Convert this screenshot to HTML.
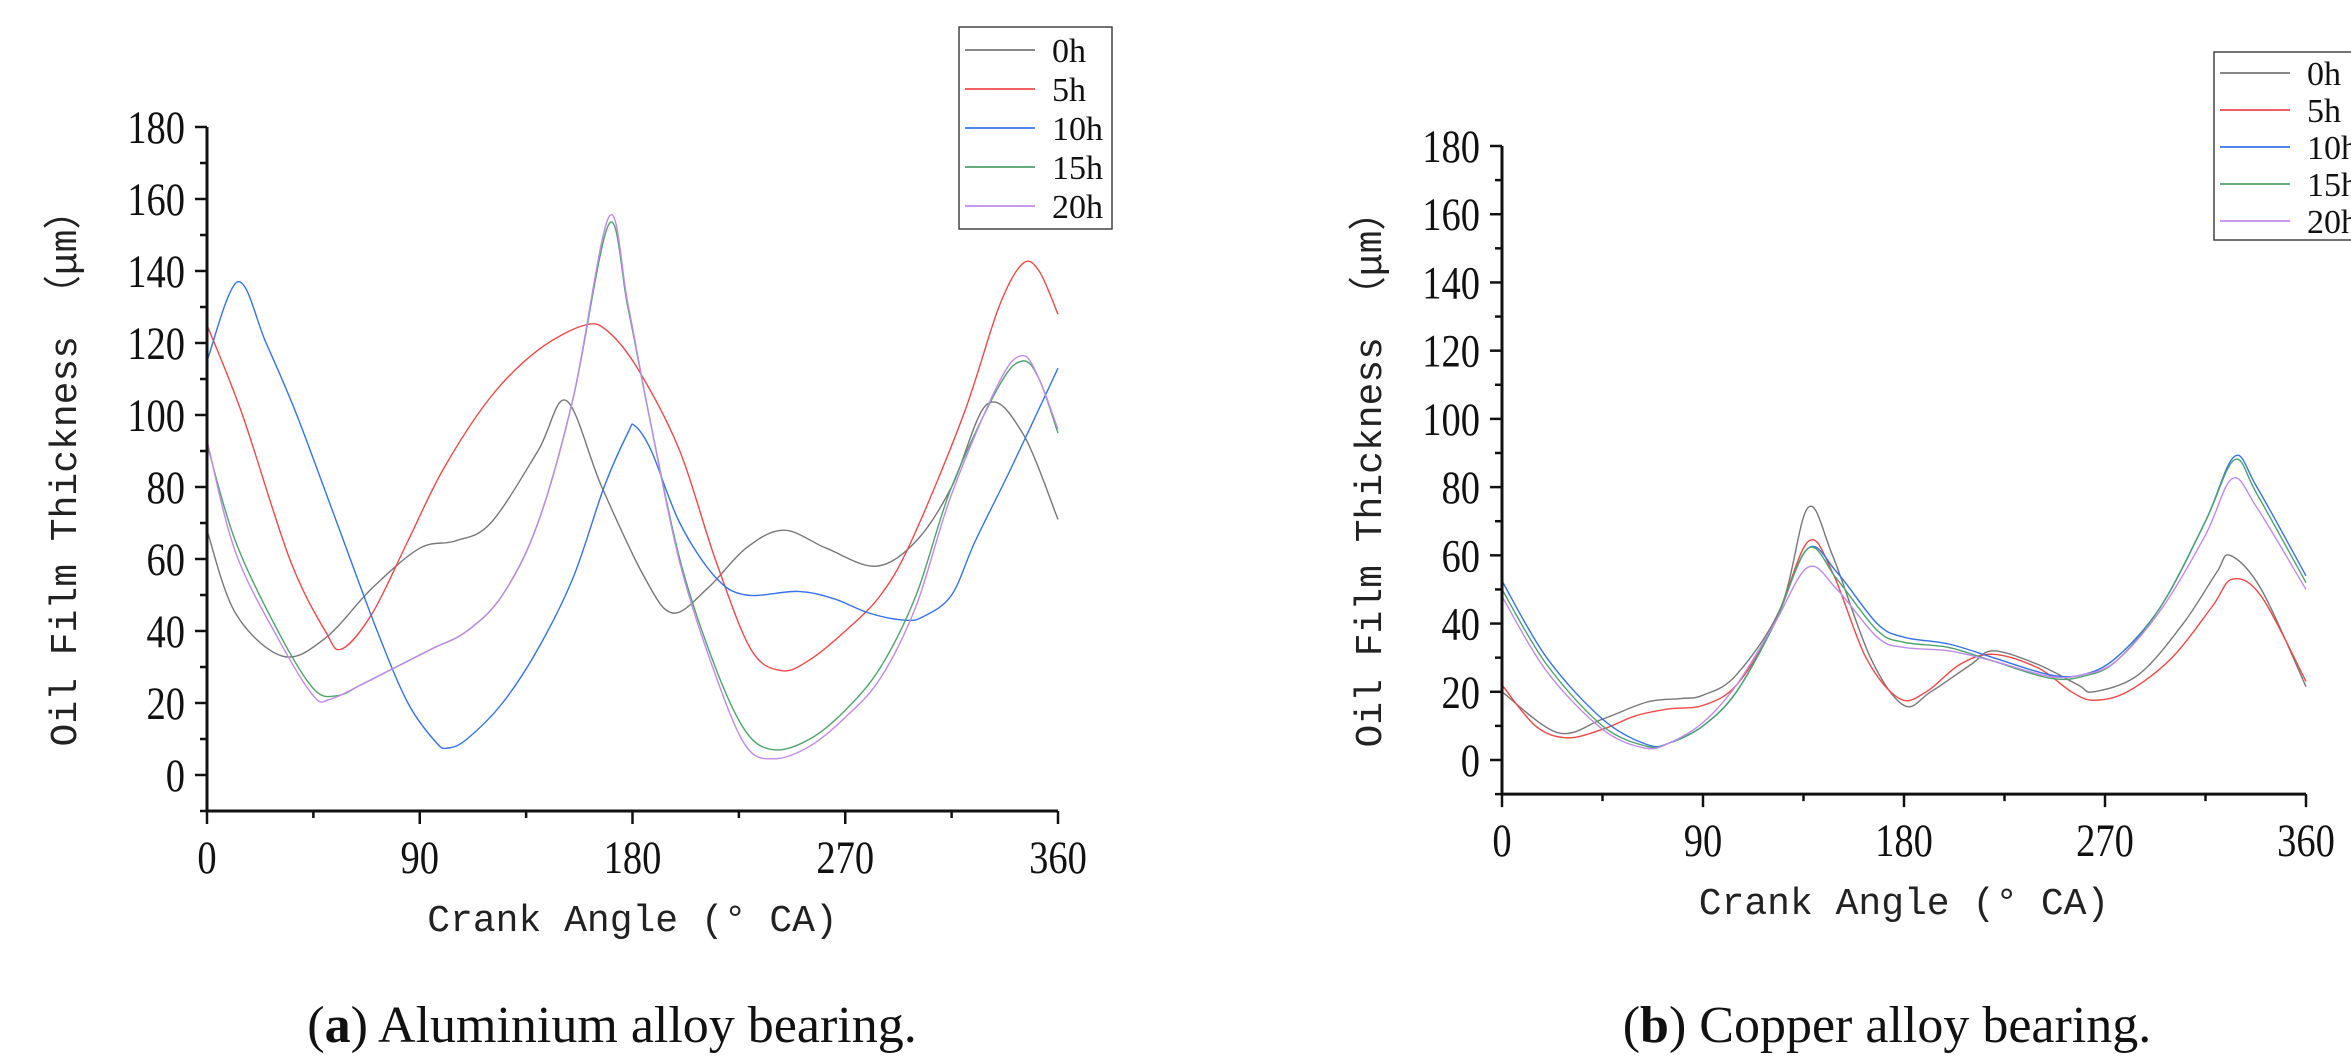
<!DOCTYPE html>
<html><head><meta charset="utf-8"><style>
html,body{margin:0;padding:0;background:#fff;}
svg{display:block;}
.tick{font-family:"Liberation Serif",serif;font-size:47px;fill:#111;}
.ttl{font-family:"Liberation Mono","Noto Sans CJK SC",monospace;font-size:38px;fill:#222;}
.leg{font-family:"Liberation Serif",serif;font-size:34px;fill:#111;}
.cap{font-family:"Liberation Serif",serif;font-size:52px;fill:#111;}
</style></head><body>
<svg id="fig" width="2351" height="1063" viewBox="0 0 2351 1063" xmlns="http://www.w3.org/2000/svg">
<text class="cap" x="612" y="1042" text-anchor="middle">(<tspan font-weight="bold">a</tspan>) Aluminium alloy bearing.</text>
<text class="cap" x="1887" y="1042" text-anchor="middle">(<tspan font-weight="bold">b</tspan>) Copper alloy bearing.</text>
</svg>
<script>
// Panel A (aluminium) data
const seriesNames = ["0h","5h","10h","15h","20h"];
const colors = ["#777777","#f04848","#3572e8","#4ea36c","#c08ae8"];
const yTicks = [0,20,40,60,80,100,120,140,160,180];
const xTicks = [0,90,180,270,360];

const a0x = [0,12,32,50,70,90,105,120,140,152,167,185,197,212,228,244,262,283,300,315,330,345,360];
const a0y = [68,45,33,38,52,63,65,70,90,104,80,55,45,52,63,68,63,58,65,80,103,95,71];
const a5x = [0,15,35,50,57,70,85,100,120,140,160,170,183,200,215,230,243,255,270,285,298,320,335,345,352,360];
const a5y = [125,100,60,40,35,45,65,85,105,118,125,123,112,90,60,35,29,32,40,50,65,100,130,142,140,128];
const a10x = [0,13,25,38,55,72,85,97,102,110,125,140,155,168,178,181,188,200,215,228,250,265,280,295,303,315,325,340,360];
const a10y = [115,137,120,100,70,40,20,9,7.5,10,20,35,55,80,95,97,90,70,55,50,51,49,45,43,44,50,65,85,113];
const a15x = [0,12,30,45,55,65,80,95,110,125,140,155,170,178,187,200,215,228,240,255,270,285,300,315,335,345,352,360];
const a15y = [92,65,40,24,22,25,30,35,40,50,70,105,153,130,100,60,30,12,7,10,18,30,50,80,108,115,110,95];
const a20x = [0,12,30,45,52,65,80,95,110,125,140,155,170,178,187,200,215,228,240,255,270,285,300,315,335,345,352,360];
const a20y = [93,62,38,22,21,25,30,35,40,50,70,105,155,131,100,59,28,8,4.5,8,16,27,47,78,109,116.5,110,96];

// Panel B (copper) data
const b0x = [0,25,45,65,80,90,105,125,137,148,165,180,192,210,220,240,258,265,285,305,320,326,340,360];
const b0y = [20,8,12,17,18,19,25,45,74,60,30,16,20,28,32,28,22,20,25,40,55,60,50,21.5];
const b5x = [0,15,29,45,60,75,90,105,122,137,148,163,178,190,205,220,240,255,265,280,300,318,327,340,360];
const b5y = [22,10,6.5,9,13,15,16,22,40,64,55,30,18,20,28,31,27,20,17.5,20,30,45,53,48,23];
const b10x = [0,20,45,65,75,90,105,122,137,150,168,180,200,220,245,260,275,295,315,328,338,360];
const b10y = [52.5,30,12,4.5,5,10,20,40,62,55,40,36,34,30,25,25,30,45,70,89,80,54];
const b15x = [0,20,45,65,75,90,105,122,137,150,168,180,200,220,245,260,275,295,315,328,338,360];
const b15y = [50,28,10,4,5,10,20,40,62,53,38,34.5,33,29,24,24.5,29,45,70,88,78,52];
const b20x = [0,20,45,64,75,90,105,122,137,150,168,180,200,220,245,260,275,295,315,327,338,360];
const b20y = [48,26,9,3.5,5,11,22,40,56.5,50,36,33,32,29,24.5,25,29,44,66,82.5,74,50];

const NS = "http://www.w3.org/2000/svg";
const svg = document.getElementById("fig");
function mk(tag, attrs, parent){
  const e = document.createElementNS(NS, tag);
  for (const k in attrs) e.setAttribute(k, attrs[k]);
  (parent||svg).appendChild(e);
  return e;
}
function smooth(pts){
  let d = "M"+pts[0][0].toFixed(1)+","+pts[0][1].toFixed(1);
  for (let i=0;i<pts.length-1;i++){
    const p0=pts[Math.max(i-1,0)], p1=pts[i], p2=pts[i+1], p3=pts[Math.min(i+2,pts.length-1)];
    const c1x=p1[0]+(p2[0]-p0[0])/6, c1y=p1[1]+(p2[1]-p0[1])/6;
    const c2x=p2[0]-(p3[0]-p1[0])/6, c2y=p2[1]-(p3[1]-p1[1])/6;
    d+=" C"+c1x.toFixed(1)+","+c1y.toFixed(1)+" "+c2x.toFixed(1)+","+c2y.toFixed(1)+" "+p2[0].toFixed(1)+","+p2[1].toFixed(1);
  }
  return d;
}
function squeezedText(parent, x, y, anchor, str, name){
  const g = mk("g",{transform:"translate("+x+","+y+") scale(0.82,1)"},parent);
  const t = mk("text",{x:0,y:0,"text-anchor":anchor,class:"tick"},g);
  t.textContent = str;
  
  
}
function panel(cfg){
  const g = mk("g", {});
  
  
  const X = v => cfg.x0 + (v/360)*(cfg.x1-cfg.x0);
  const Y = v => cfg.y0 - (v/180)*(cfg.y0-cfg.y180);
  const yBot = Y(-10);
  cfg.series.forEach((s,i)=>{
    const pts = s[0].map((a,j)=>[X(a),Y(s[1][j])]);
    const p = mk("path",{d:smooth(pts),fill:"none",stroke:colors[i],"stroke-width":1.4},g);
    
    
  });
  const ax = mk("path",{d:"M"+cfg.x0+","+Y(180)+" L"+cfg.x0+","+yBot+" L"+cfg.x1+","+yBot,fill:"none",stroke:"#111","stroke-width":3},g);
  
  
  for (let v=-10; v<=180; v+=10){
    const major = v%20===0;
    const t = mk("line",{x1:cfg.x0-(major?12:7),x2:cfg.x0,y1:Y(v),y2:Y(v),stroke:"#111","stroke-width":2.5},g);
    
    
  }
  yTicks.forEach(v=>{
    squeezedText(g, cfg.x0-22, Y(v)+16, "end", String(v), 'y-tick-label');
  });
  for (let v=0; v<=360; v+=45){
    const major = v%90===0;
    const t = mk("line",{x1:X(v),x2:X(v),y1:yBot,y2:yBot+(major?13:7),stroke:"#111","stroke-width":2.5},g);
    
    
  }
  xTicks.forEach(v=>{
    squeezedText(g, X(v), yBot+62, "middle", String(v), 'x-tick-label');
  });
  const xt = mk("text",{x:(cfg.x0+cfg.x1)/2,y:yBot+120,"text-anchor":"middle",class:"ttl"},g);
  xt.textContent = "Crank Angle (° CA)";
  
  
  const ytx = cfg.ytx, yty = (Y(180)+yBot)/2;
  const yt = mk("text",{x:ytx,y:yty,"text-anchor":"middle",class:"ttl",transform:"rotate(-90 "+ytx+" "+yty+")"},g);
  yt.textContent = "Oil Film Thickness （μm）";
  
  
  const L = cfg.leg;
  const box = mk("rect",{x:L.x,y:L.y,width:L.w,height:L.h,fill:"#fff",stroke:"#444","stroke-width":1.5},g);
  
  
  seriesNames.forEach((n,i)=>{
    const yy = L.y+L.first+i*L.step;
    const ln = mk("line",{x1:L.x+6,x2:L.x+76,y1:yy,y2:yy,stroke:colors[i],"stroke-width":1.8},g);
    
    
    const tx = mk("text",{x:L.x+93,y:yy+12,class:"leg"},g);
    tx.textContent = n;
    
    
  });
}
panel({name:"chart-aluminium",x0:207,x1:1058,y0:775,y180:127,ytx:76,
  series:[[a0x,a0y],[a5x,a5y],[a10x,a10y],[a15x,a15y],[a20x,a20y]],
  leg:{x:959,y:27,w:153,h:202,first:23,step:39}});
panel({name:"chart-copper",x0:1502,x1:2306,y0:760,y180:146,ytx:1381,
  series:[[b0x,b0y],[b5x,b5y],[b10x,b10y],[b15x,b15y],[b20x,b20y]],
  leg:{x:2214,y:52,w:150,h:188,first:21,step:37}});
</script>
</body></html>
